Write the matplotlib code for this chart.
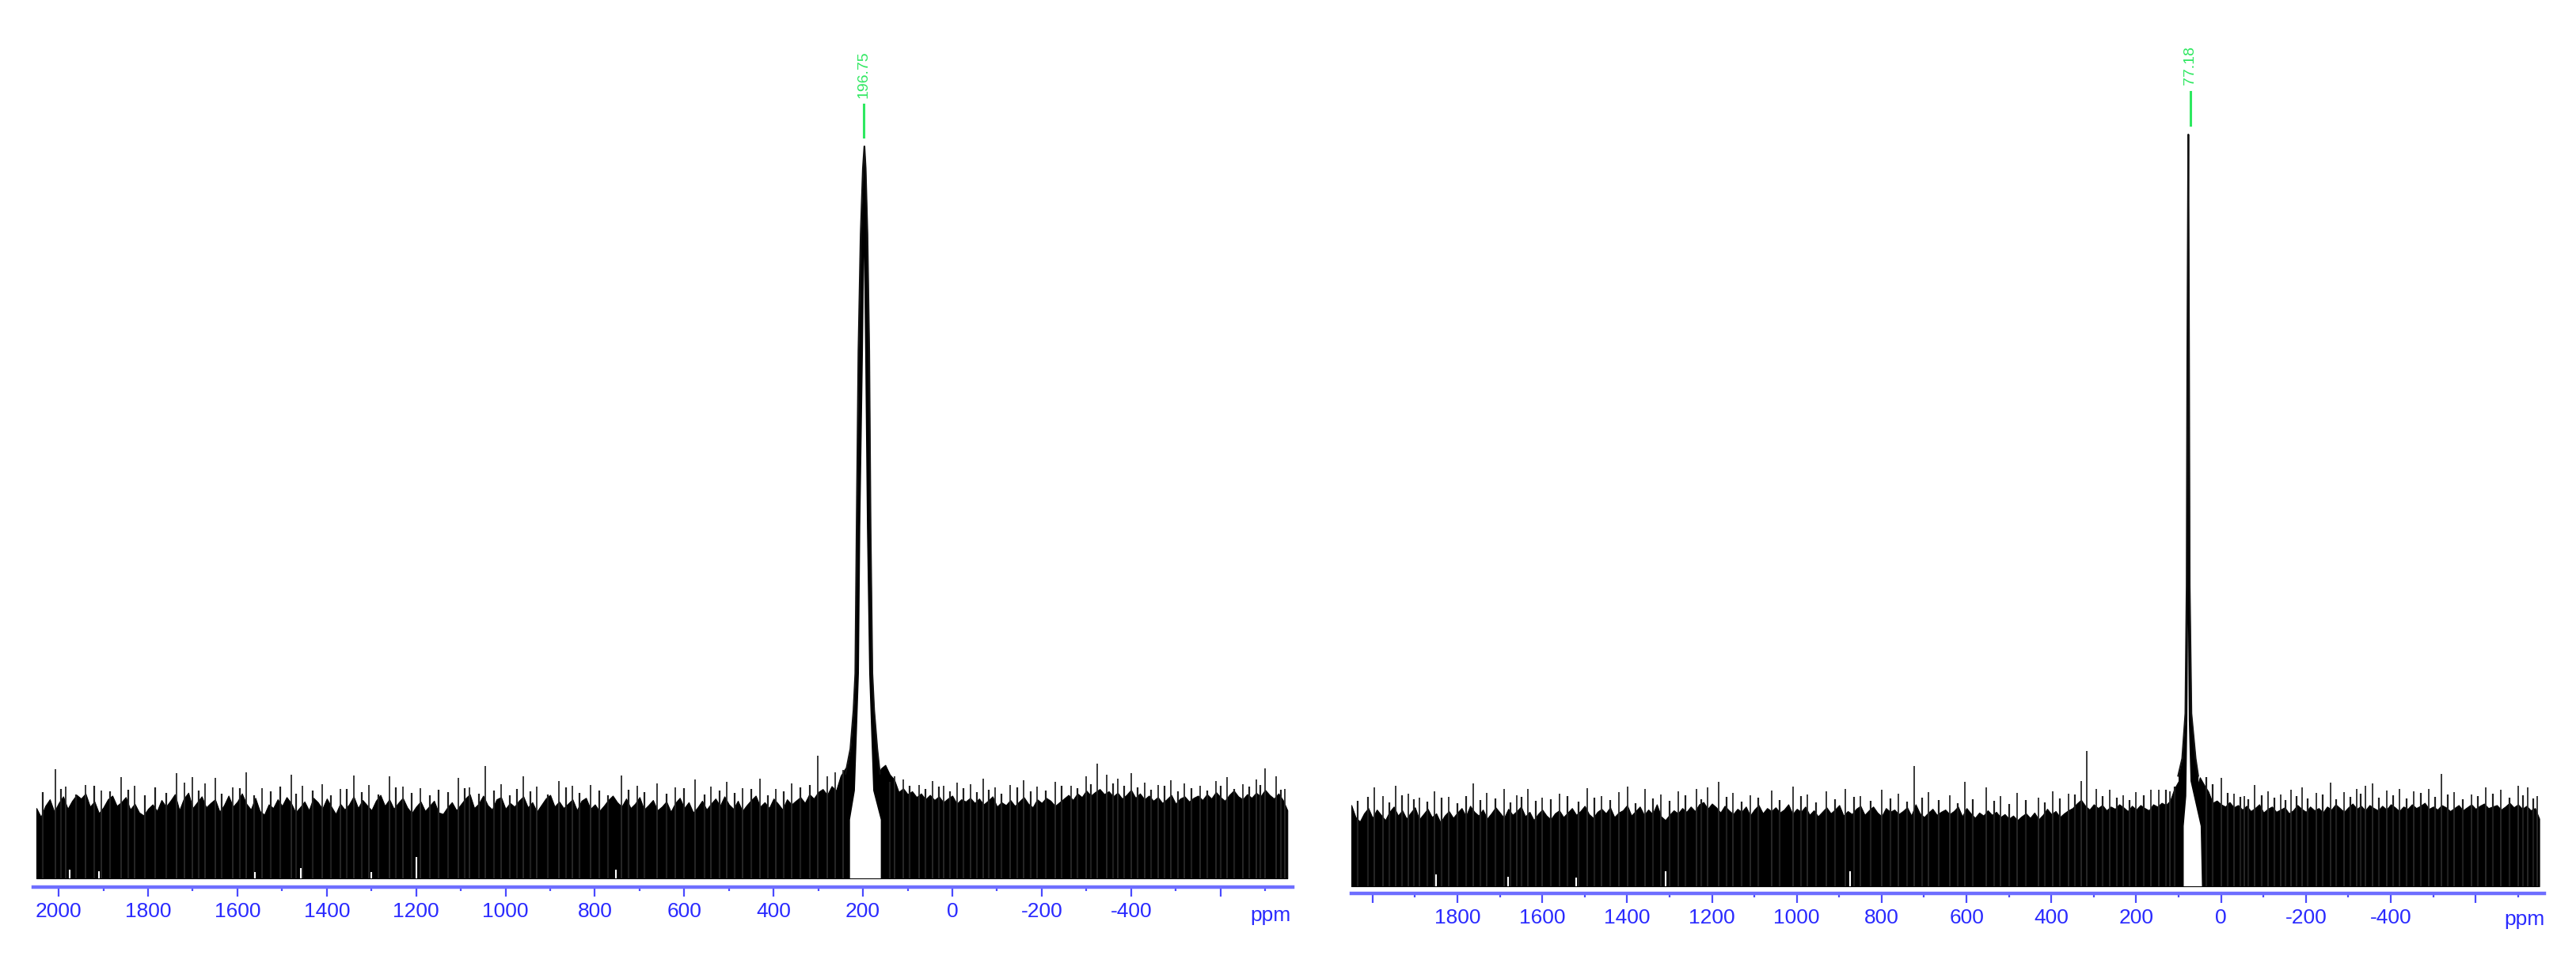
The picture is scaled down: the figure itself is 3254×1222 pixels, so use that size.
import numpy as np
import matplotlib
matplotlib.use("Agg")
import matplotlib.pyplot as plt
from matplotlib.ticker import FixedLocator, MultipleLocator

plt.rcParams['font.family'] = ['Liberation Sans', 'DejaVu Sans']

# ---------------- data (intensity: main peak = 100) ----------------
ppm_grid = np.arange(2050, -751, -10)   # sampling positions, 2050 ... -750 ppm

left_noise_top = [
    9.6, 8.4, 9.9, 10.8, 9.1, 10.3, 11.2, 9.5, 10.6, 11.4,
    10.9, 11.6, 9.8, 10.5, 8.9, 9.7, 10.8, 11.3, 9.9, 10.4,
    11.1, 9.4, 10.2, 9.0, 8.6, 9.5, 10.1, 9.2, 10.7, 9.8,
    10.6, 11.5, 9.3, 10.9, 11.7, 9.6, 10.4, 11.2, 9.7, 10.3,
    10.8, 9.1, 10.0, 11.3, 9.8, 10.5, 11.6, 10.2, 9.4, 11.0,
    9.2, 8.7, 10.1, 9.6, 10.8, 9.9, 11.1, 10.3, 9.0, 9.7,
    10.5, 9.3, 11.0, 10.4, 9.5, 10.9, 9.8, 8.8, 10.2, 9.4,
    10.1, 11.2, 9.6, 10.7, 10.0, 9.3, 10.6, 11.4, 9.9, 10.8,
    9.5, 10.3, 11.0, 9.7, 8.9, 9.8, 10.5, 9.2, 9.9, 10.6,
    9.0, 8.8, 9.7, 10.4, 9.3, 10.1, 10.9, 11.5, 9.6, 10.2,
    11.3, 10.0, 9.4, 10.8, 11.1, 9.5, 10.3, 9.8, 10.6, 11.2,
    9.7, 10.4, 9.1, 10.0, 10.9, 11.4, 9.8, 10.5, 9.6, 10.2,
    10.8, 9.3, 10.6, 11.0, 9.5, 10.1, 9.2, 9.9, 10.7, 11.3,
    10.4, 9.8, 10.9, 9.6, 10.2, 11.1, 9.4, 10.0, 10.7, 9.3,
    9.8, 10.5, 9.1, 10.3, 11.0, 9.6, 10.4, 9.0, 9.7, 10.6,
    9.4, 10.2, 10.9, 9.9, 11.2, 10.1, 9.5, 10.6, 9.2, 10.0,
    10.7, 11.3, 9.8, 10.4, 9.6, 10.9, 10.2, 9.4, 10.8, 10.1,
    10.6, 11.1, 10.3, 11.5, 10.9, 11.8, 12.2, 11.4, 12.6, 12.0,
    14.0, 15.0, 15.5, 12.5, 12.8, 12.8, 12.8, 12.8, 12.8, 15.0,
    15.5, 14.2, 13.5, 11.8, 12.3, 11.5, 11.9, 11.1, 11.6, 10.8,
    11.4, 10.7, 11.2, 10.4, 10.9, 11.3, 10.2, 10.8, 10.5, 11.0,
    10.3, 10.9, 10.1, 10.6, 11.2, 9.8, 10.4, 10.0, 10.7, 9.9,
    10.5, 11.1, 10.2, 9.7, 10.8, 10.3, 11.0, 10.6, 9.9, 10.4,
    10.9, 11.4, 10.7, 11.6, 11.1, 12.0, 11.3, 11.8, 12.2, 11.5,
    11.9, 11.2, 11.7, 10.9, 11.4, 12.1, 11.0, 11.6, 10.8, 11.3,
    10.6, 11.1, 10.3, 10.8, 11.4, 10.2, 10.9, 11.2, 10.5, 11.0,
    11.3, 10.7, 11.5, 10.9, 11.8, 11.1, 10.6, 11.4, 12.0, 11.2,
    10.8, 11.5, 11.0, 11.7, 11.2, 12.1, 11.4, 10.9, 11.6, 10.7,
    9.3,
]
left_spike_ppm = [2007, 1985, 1940, 1905, 1860, 1830, 1736, 1718, 1700, 1672,
                  1650, 1610, 1580, 1545, 1480, 1455, 1410, 1370, 1340, 1305,
                  1260, 1230, 1190, 1105, 1080, 1045, 1010, 960, 930, 880,
                  850, 810, 740, 705, 660, 620, 575, 540, 505, 470,
                  430, 395, 360, 301, 280, 262, 245, 130, 110, 75,
                  45, 20, -10, -40, -70, -95, -130, -160, -190, -230,
                  -265, -300, -325, -345, -370, -400, -430, -460, -490, -520,
                  -555, -590, -615, -650, -680, -700, -725, -745]
left_spike_int = [14.9, 12.5, 12.8, 12.0, 13.8, 12.6, 14.4, 13.1, 13.8, 13.0,
                  13.7, 12.4, 14.5, 12.3, 14.2, 12.7, 12.9, 12.2, 14.1, 12.8,
                  13.9, 12.5, 12.3, 13.7, 12.4, 15.4, 12.9, 13.9, 12.5, 13.3,
                  12.6, 12.8, 14.1, 12.7, 13.0, 12.4, 13.5, 12.5, 13.2, 12.3,
                  13.6, 12.2, 13.0, 16.8, 13.9, 14.5, 14.8, 14.0, 13.5, 12.8,
                  13.3, 12.6, 13.1, 12.9, 13.6, 12.4, 12.8, 13.4, 12.5, 13.2,
                  12.6, 14.0, 15.7, 14.2, 13.6, 14.4, 13.1, 12.8, 13.4, 13.0,
                  12.7, 13.3, 13.8, 12.9, 13.5, 15.0, 14.0, 12.2]
left_mid_ppm = [2035, 1995, 1962, 1920, 1885, 1845, 1808, 1785, 1760, 1686,
                1635, 1595, 1562, 1525, 1505, 1468, 1432, 1390, 1355, 1322,
                1285, 1245, 1210, 1170, 1150, 1128, 1092, 1060, 1025, 990,
                975, 945, 905, 865, 835, 790, 770, 725, 690, 640,
                600, 555, 520, 488, 450, 412, 378, 340, 318, 140,
                95, 60, 30, 5, -25, -55, -82, -110, -145, -175,
                -210, -245, -280, -310, -360, -385, -415, -445, -475, -505,
                -535, -570, -600, -630, -665, -690, -735]
left_mid_int = [11.8, 12.2, 11.5, 12.6, 11.9, 12.1, 11.4, 12.4, 11.7, 12.0,
                11.6, 12.3, 11.3, 11.9, 12.5, 11.6, 12.0, 11.4, 12.2, 11.8,
                11.5, 12.4, 11.7, 11.3, 12.1, 11.8, 12.3, 11.6, 12.0, 11.4,
                12.2, 11.9, 11.5, 12.4, 11.7, 12.0, 11.3, 12.1, 11.8, 11.6,
                12.3, 11.5, 12.0, 11.7, 12.2, 11.4, 11.9, 12.4, 12.8, 13.2,
                12.6, 12.2, 12.5, 11.9, 12.3, 11.8, 12.1, 11.6, 12.4, 11.9,
                12.0, 12.6, 12.3, 12.9, 13.0, 12.7, 12.4, 12.1, 12.6, 11.9,
                12.3, 12.0, 12.7, 12.2, 12.5, 12.8, 12.1]
left_gap_ppm = [1975, 1910, 1560, 1458, 1300, 1200, 753]
left_gap_int = [1.2, 1.0, 0.9, 1.4, 0.9, 2.9, 1.2]
left_peak_ppm = [239, 228, 221, 217, 214, 210, 205, 200, 196.75, 194, 190, 186, 183, 179, 175, 168, 162]
left_peak_int = [14.3, 17.7, 23, 28, 48, 72, 88, 97, 100, 97, 88, 72, 48, 28, 23, 17.7, 14.3]
left_hole_ppm = [229, 229, 218, 209, 206, 200, 197.5, 195, 191, 186, 177, 160, 160]
left_hole_int = [0, 8, 12, 28, 48, 72, 85, 72, 48, 28, 12, 8, 0]
left_label = "196.75"
left_label_ppm = 199

right_noise_top = [
    10.8, 9.2, 8.6, 9.7, 10.4, 9.1, 10.2, 9.5, 8.8, 9.9,
    10.6, 9.4, 10.1, 9.0, 9.8, 10.5, 8.9, 9.6, 10.3, 9.2,
    9.7, 8.5, 9.4, 10.0, 9.1, 9.8, 10.4, 9.3, 10.7, 9.9,
    9.4, 10.2, 9.0, 9.7, 10.5, 9.8, 9.1, 10.3, 9.5, 10.0,
    10.6, 9.3, 9.9, 8.8, 9.6, 10.2, 9.4, 8.9, 9.7, 10.1,
    9.2, 9.8, 10.4, 9.5, 10.0, 10.7, 9.6, 9.1, 9.9, 10.3,
    9.7, 10.5, 9.2, 9.8, 10.1, 10.8, 9.4, 10.0, 10.6, 9.5,
    10.2, 9.6, 10.9, 9.3, 8.8, 9.5, 10.1, 9.7, 10.4, 9.9,
    10.6, 10.0, 10.9, 11.2, 10.3, 11.0, 10.5, 9.8, 10.7, 10.1,
    9.6, 10.3, 9.9, 10.6, 9.4, 10.2, 10.8, 9.7, 10.4, 10.0,
    10.5, 9.8, 10.2, 10.9, 9.6, 10.3, 9.9, 10.6, 9.5, 10.1,
    9.3, 9.9, 10.5, 9.7, 10.2, 10.8, 9.4, 10.0, 9.6, 10.3,
    10.7, 9.5, 10.1, 10.6, 9.8, 9.3, 10.4, 9.9, 10.2, 9.6,
    10.0, 10.5, 9.4, 10.9, 9.7, 9.2, 9.8, 10.3, 9.5, 9.9,
    10.2, 9.6, 10.0, 10.6, 9.3, 10.4, 9.7, 9.1, 9.8, 9.4,
    10.1, 9.5, 9.9, 9.2, 9.6, 9.0, 9.4, 8.8, 9.3, 9.7,
    9.1, 9.8, 8.9, 9.5, 10.3, 9.6, 10.0, 9.2, 9.7, 10.1,
    10.4, 11.0, 11.5, 10.7, 10.2, 10.9, 10.4, 10.8, 10.1, 10.6,
    10.3, 10.9, 10.5, 10.0, 10.7, 10.2, 10.8, 10.4, 10.1, 10.9,
    10.6, 11.1, 10.8, 11.4, 13.0, 14.0, 13.2, 12.5, 12.5, 12.5,
    14.5, 13.5, 12.6, 11.1, 11.4, 10.9, 10.6, 11.2, 10.5, 10.8,
    10.2, 10.7, 10.0, 10.4, 10.9, 9.8, 10.3, 10.6, 9.9, 10.2,
    10.5, 9.7, 10.1, 10.8, 10.3, 9.9, 10.6, 10.1, 10.4, 9.8,
    10.6, 10.2, 10.9, 10.4, 9.9, 10.5, 11.0, 10.3, 10.7, 10.1,
    10.8, 10.4, 10.1, 10.7, 10.2, 10.9, 10.5, 10.0, 10.6, 10.3,
    10.9, 10.4, 10.7, 11.1, 10.3, 10.6, 10.2, 10.8, 10.5, 10.0,
    10.4, 10.8, 10.1, 10.5, 10.9, 10.3, 10.7, 11.0, 10.4, 10.6,
    10.8, 10.2, 10.6, 11.1, 10.5, 10.9, 10.3, 10.7, 10.1, 10.4,
    9.0,
]
right_spike_ppm = [1995, 1975, 1945, 1915, 1890, 1855, 1820, 1762, 1730, 1690,
                   1660, 1633, 1600, 1560, 1494, 1460, 1420, 1399, 1358, 1320,
                   1280, 1237, 1210, 1185, 1150, 1110, 1060, 1009, 975, 930,
                   885, 850, 800, 760, 723, 690, 640, 604, 554, 520,
                   480, 430, 397, 360, 330, 316, 295, 262, 230, 200,
                   165, 147, 120, 0, -30, -55, -79, -110, -140, -165,
                   -191, -225, -259, -290, -320, -340, -358, -390, -420, -455,
                   -490, -519, -550, -590, -623, -660, -700, -722, -745]
right_spike_int = [13.2, 12.0, 13.4, 12.3, 11.8, 12.6, 11.9, 13.7, 12.4, 12.9,
                   12.1, 12.9, 11.8, 12.3, 13.1, 12.0, 12.5, 13.3, 12.9, 12.2,
                   12.6, 12.9, 13.2, 13.9, 12.4, 12.1, 12.7, 13.3, 12.2, 12.6,
                   12.9, 12.0, 12.8, 12.3, 16.0, 12.5, 12.1, 13.9, 13.2, 12.0,
                   12.4, 11.8, 12.6, 12.3, 14.0, 18.0, 13.0, 12.8, 12.1, 12.5,
                   12.8, 12.8, 12.6, 14.4, 12.3, 12.0, 13.5, 12.6, 12.2, 12.8,
                   13.2, 12.4, 13.8, 12.5, 12.9, 13.4, 13.7, 12.7, 13.0, 12.6,
                   12.9, 14.9, 12.5, 12.2, 13.2, 12.8, 13.4, 13.2, 12.0]
right_mid_ppm = [2035, 2010, 1960, 1930, 1902, 1870, 1838, 1800, 1780, 1745,
                 1710, 1675, 1648, 1615, 1580, 1540, 1515, 1478, 1440, 1380,
                 1340, 1300, 1262, 1225, 1165, 1130, 1090, 1040, 990, 955,
                 910, 865, 825, 780, 740, 705, 665, 620, 585, 535,
                 500, 460, 415, 380, 345, 280, 245, 215, 182, 130,
                 110, 35, 20, -15, -45, -65, -95, -125, -152, -178,
                 -205, -240, -272, -305, -330, -372, -405, -438, -470, -505,
                 -535, -570, -605, -640, -680, -712, -735]
right_mid_int = [11.4, 11.9, 11.2, 12.1, 11.6, 11.3, 11.8, 11.1, 12.0, 11.5,
                 11.7, 11.2, 11.9, 11.4, 11.6, 12.0, 11.3, 11.8, 11.5, 11.1,
                 11.7, 11.4, 12.1, 11.6, 11.9, 11.3, 11.8, 11.5, 12.0, 11.2,
                 11.6, 11.9, 11.4, 11.7, 11.3, 11.8, 11.5, 11.1, 11.6, 11.4,
                 11.0, 11.5, 11.2, 11.7, 12.2, 12.0, 11.8, 11.5, 12.1, 12.8,
                 13.3, 14.5, 13.6, 12.4, 11.9, 11.6, 12.1, 11.8, 11.5, 12.0,
                 11.7, 12.2, 11.6, 11.9, 12.3, 11.8, 12.1, 11.7, 12.4, 11.9,
                 12.2, 11.6, 12.0, 12.3, 11.8, 12.1, 11.7]
right_gap_ppm = [1850, 1680, 1520, 1310, 875]
right_gap_int = [1.6, 1.3, 1.2, 2.0, 2.0]
right_peak_ppm = [101, 91.5, 84, 81, 79.5, 77.18, 75.5, 74, 70, 60, 54]
right_peak_int = [14.7, 17, 23, 40, 70, 100, 70, 40, 23, 17, 14.7]
right_hole_ppm = [88, 88, 82, 79.5, 77.8, 76, 72, 48, 45]
right_hole_int = [0, 8, 12, 22, 35, 22, 14, 8, 0]
right_label = "77.18"
right_label_ppm = 73

tick_values = [2000, 1800, 1600, 1400, 1200, 1000, 800, 600, 400, 200, 0, -200, -400, -600]
left_tick_labels = ['2000', '1800', '1600', '1400', '1200', '1000', '800', '600',
                    '400', '200', '0', '-200', '-400', '']
right_tick_labels = ['', '1800', '1600', '1400', '1200', '1000', '800', '600',
                     '400', '200', '0', '-200', '-400', '']

# ---------------- style ----------------
W, H = 3255, 1222
DPI = 100
AXIS_BLUE = '#6e6eff'
TICK_BLUE = '#4a4aff'
LABEL_BLUE = '#2a2aff'
GREEN = '#2ee860'

fig = plt.figure(figsize=(W / DPI, H / DPI), dpi=DPI)


def panel(rect, xlim, ylim, top, spk_x, spk_y, mid_x, mid_y, gap_x, gap_y,
          pk_x, pk_y, hole_x, hole_y, label, label_x, ticklabels, ppm_off):
    ax = fig.add_axes(rect)
    ax.fill_between(ppm_grid, 0, top, color='black', lw=0.8, zorder=1)
    ax.vlines(mid_x, 0, mid_y, color='#1e1e1e', lw=1.6, zorder=1)
    ax.vlines(spk_x, 0, spk_y, color='#2a2a2a', lw=1.3, zorder=1)
    ax.vlines(gap_x, 0, gap_y, color='white', lw=1.5, zorder=2)
    # peak: dark trace with white interior
    ax.fill_between(pk_x, 0, pk_y, color='black', lw=0, zorder=3)
    ax.fill(hole_x, hole_y, color='white', lw=0, zorder=3.5)
    ax.plot(pk_x, pk_y, color='#111111', lw=1.6, zorder=4)
    # peak pick annotation
    ax.plot([label_x, label_x], [101.3, 105.7], color=GREEN, lw=2.2, zorder=5)
    ax.text(label_x, 106.6, label, rotation=90, ha='center', va='bottom',
            color=GREEN, fontsize=14, zorder=5)
    ax.set_xlim(*xlim)
    ax.set_ylim(*ylim)
    for s in ('left', 'right', 'top'):
        ax.spines[s].set_visible(False)
    ax.spines['bottom'].set_color(AXIS_BLUE)
    ax.spines['bottom'].set_linewidth(3.2)
    ax.spines['bottom'].set_zorder(6)
    ax.set_yticks([])
    ax.xaxis.set_major_locator(FixedLocator(tick_values))
    ax.set_xticklabels(ticklabels)
    ax.xaxis.set_minor_locator(MultipleLocator(100))
    ax.tick_params(axis='x', which='major', length=8.5, width=1.6, color=TICK_BLUE,
                   labelcolor=LABEL_BLUE, labelsize=19, pad=5)
    ax.tick_params(axis='x', which='minor', length=3.5, width=1.6, color=TICK_BLUE)
    ax.annotate('ppm', xy=(ppm_off[0], 0), xycoords=('data', 'axes fraction'),
                xytext=(0, ppm_off[1]), textcoords='offset points',
                ha='center', va='center', color=LABEL_BLUE, fontsize=19)
    ax.patch.set_alpha(0)
    return ax


# left panel: x 42..1633 px, blue axis at y=1121, top at y=40
panel([42 / W, 1 - 1121 / H, (1633 - 42) / W, (1121 - 40) / H],
      (2057, -762), (-11 / 9.25, (1110 - 40) / 9.25),
      left_noise_top, left_spike_ppm, left_spike_int, left_mid_ppm, left_mid_int,
      left_gap_ppm, left_gap_int, left_peak_ppm, left_peak_int,
      left_hole_ppm, left_hole_int, left_label, left_label_ppm,
      left_tick_labels, (-712, -26))

# right panel: x 1707..3214 px, blue axis at y=1129
panel([1707 / W, 1 - 1129 / H, (3214 - 1707) / W, (1129 - 40) / H],
      (2050, -762), (-9 / 9.5, (1120 - 40) / 9.5),
      right_noise_top, right_spike_ppm, right_spike_int, right_mid_ppm, right_mid_int,
      right_gap_ppm, right_gap_int, right_peak_ppm, right_peak_int,
      right_hole_ppm, right_hole_int, right_label, right_label_ppm,
      right_tick_labels, (-715, -24))

fig.savefig('out.png', dpi=DPI)
